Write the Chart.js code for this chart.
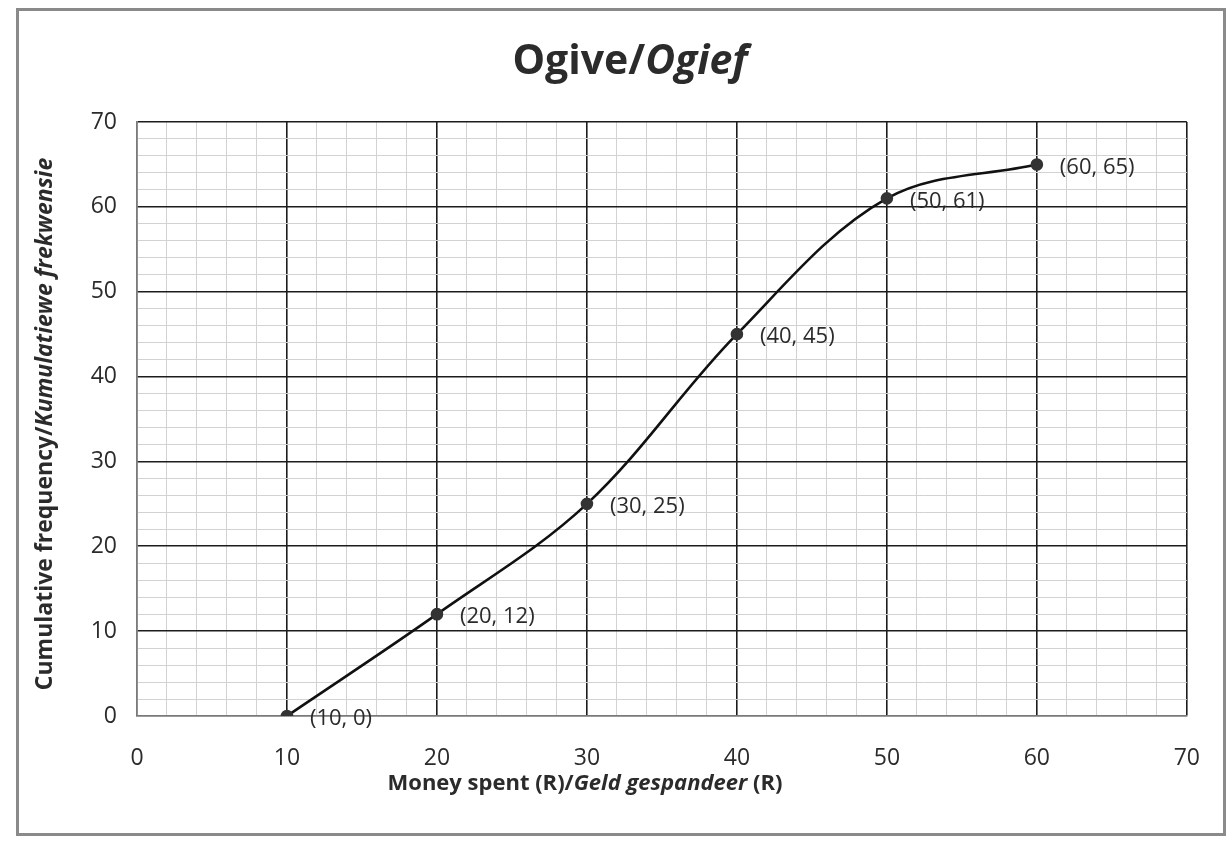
<!DOCTYPE html>
<html>
<head>
<meta charset="utf-8">
<script src="https://cdn.jsdelivr.net/npm/chart.js@4"></script>
<style>
  body { margin: 0; background: #fff; }
  #wrap { position: relative; width: 1229px; height: 842px; }
  #frame { position: absolute; left: 16px; top: 8px; width: 1204px; height: 822px; border: 3px solid #8a8a8a; pointer-events: none; }
</style>
</head>
<body>
<div id="wrap">
  <canvas id="ogiveChart" width="1229" height="842"></canvas>
  <div id="frame"></div>
</div>
<script>
// dados do ogive
const moneySpent = [10, 20, 30, 40, 50, 60];
const cumulativeFreq = [0, 12, 25, 45, 61, 65];
const axisTicks = [0, 10, 20, 30, 40, 50, 60, 70];

const FONT = "'Open Sans', 'DejaVu Sans', sans-serif";

// desenha um texto com partes normais e itálicas
function drawParts(ctx, parts, size, cx, cy, rotate) {
  ctx.save();
  ctx.translate(cx, cy);
  if (rotate) ctx.rotate(-Math.PI / 2);
  ctx.textBaseline = "alphabetic";
  ctx.textAlign = "left";
  ctx.fillStyle = "#2b2b2b";
  let total = 0;
  parts.forEach((p) => {
    ctx.font = (p.italic ? "italic " : "") + "bold " + size + "px " + FONT;
    p.w = ctx.measureText(p.text).width;
    total += p.w;
  });
  let x = -total / 2;
  parts.forEach((p) => {
    ctx.font = (p.italic ? "italic " : "") + "bold " + size + "px " + FONT;
    ctx.fillText(p.text, x, 0);
    x += p.w;
  });
  ctx.restore();
}

const titlesPlugin = {
  id: "titles",
  afterDraw(chart) {
    const ctx = chart.ctx;
    drawParts(ctx, [{ text: "Ogive/" }, { text: "Ogief", italic: true }], 41, 630, 74, false);
    drawParts(ctx, [{ text: "Money spent (R)/" }, { text: "Geld gespandeer", italic: true }, { text: " (R)" }], 22, 585, 790, false);
    drawParts(ctx, [{ text: "Cumulative frequency/" }, { text: "Kumulatiewe frekwensie", italic: true }], 23, 52, 424, true);
  },
};

const pointLabelsPlugin = {
  id: "pointLabels",
  afterDatasetsDraw(chart) {
    const ctx = chart.ctx;
    const meta = chart.getDatasetMeta(0);
    ctx.save();
    ctx.font = "22px " + FONT;
    ctx.fillStyle = "#2b2b2b";
    ctx.textBaseline = "middle";
    ctx.textAlign = "left";
    meta.data.forEach((pt, i) => {
      ctx.fillText("(" + moneySpent[i] + ", " + cumulativeFreq[i] + ")", pt.x + 23, pt.y + 3);
    });
    ctx.restore();
  },
};

function gridColor(c) {
  const v = c.tick.value;
  if (v === 0) return "#7a7a7a";
  return v % 10 === 0 ? "#1c1c1c" : "#d2d2d2";
}
function gridWidth(c) {
  return c.tick.value % 10 === 0 ? 1.6 : 1;
}

const ctx = document.getElementById("ogiveChart").getContext("2d");
new Chart(ctx, {
  type: "line",
  data: {
    datasets: [
      {
        data: moneySpent.map((x, i) => ({ x: x, y: cumulativeFreq[i] })),
        borderColor: "#111",
        borderWidth: 2.6,
        tension: 0.35,
        pointRadius: 5,
        pointBackgroundColor: "#333",
        pointBorderColor: "#333",
        fill: false,
      },
    ],
  },
  options: {
    responsive: false,
    animation: false,
    layout: { padding: { left: 0, top: 122, right: 41, bottom: 0 } },
    plugins: {
      legend: { display: false },
      tooltip: { enabled: false },
    },
    scales: {
      x: {
        type: "linear",
        min: axisTicks[0],
        max: axisTicks[axisTicks.length - 1],
        afterFit: (scale) => { scale.height = 126; },
        ticks: {
          stepSize: 2,
          autoSkip: false,
          maxRotation: 0,
          padding: 29,
          color: "#2b2b2b",
          font: { size: 23, family: FONT },
          callback: (v) => (axisTicks.includes(v) ? v : ""),
        },
        grid: { color: gridColor, lineWidth: gridWidth, drawTicks: false },
        border: { color: "#7a7a7a", width: 1.6 },
      },
      y: {
        min: axisTicks[0],
        max: axisTicks[axisTicks.length - 1],
        afterFit: (scale) => { scale.width = 137; },
        ticks: {
          stepSize: 2,
          autoSkip: false,
          padding: 20,
          color: "#2b2b2b",
          font: { size: 23, family: FONT },
          callback: (v) => (axisTicks.includes(v) ? v : ""),
        },
        grid: { color: gridColor, lineWidth: gridWidth, drawTicks: false },
        border: { color: "#7a7a7a", width: 1.6 },
      },
    },
  },
  plugins: [titlesPlugin, pointLabelsPlugin],
});
</script>
</body>
</html>
